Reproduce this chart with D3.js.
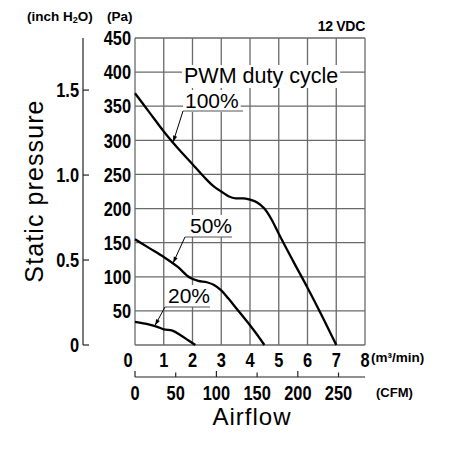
<!DOCTYPE html>
<html><head><meta charset="utf-8">
<script src="https://cdn.jsdelivr.net/npm/d3@7"></script>
<style>body{margin:0;background:#fff}svg{display:block}</style>
</head><body><div id="chart"></div>
<script>
// ---- data ----
const seriesNames = ["100%", "50%", "20%"];
const flow100 = [0, 0.5, 1, 1.5, 2, 2.5, 2.75, 3, 3.25, 3.5, 3.75, 4, 4.25, 4.5, 4.75, 5, 5.5, 6, 6.5, 7];
const pa100   = [369, 341, 313, 288, 265, 242, 232, 225, 218, 215, 215, 213, 209, 200, 184, 163, 123, 84, 43, 0];
const flow50  = [0, 0.5, 1, 1.5, 1.9, 2.2, 2.5, 2.75, 3, 3.25, 3.5, 3.75, 4, 4.25, 4.5];
const pa50    = [155, 142, 129, 114, 99, 94, 92, 88, 80, 68, 55, 42, 29, 15, 0];
const flow20  = [0, 0.5, 0.75, 1, 1.3, 1.6, 1.85, 2.1];
const pa20    = [34, 30, 27, 23, 21, 14, 7, 0];
const arrowFlow = [1.33, 1.33, 0.7];

const paGrid    = [0, 50, 100, 150, 200, 250, 300, 350, 400, 450];
const paLabels  = [50, 100, 150, 200, 250, 300, 350, 400, 450];
const inchTicks = [0, 0.5, 1.0, 1.5];
const inchLabels = ["0", "0.5", "1.0", "1.5"];
const flowTicks = [0, 1, 2, 3, 4, 5, 6, 7, 8];
const cfmTicks  = [0, 50, 100, 150, 200, 250];

const PA_PER_INCH = 249.089;
const CFM_PER_M3MIN = 35.3147;

// ---- setup ----
const svg = d3.select("#chart").append("svg").attr("width", 450).attr("height", 450);
const x = d3.scaleLinear().domain([0, 8]).range([135, 365]);
const y = d3.scaleLinear().domain([0, 450]).range([345, 38]);
const yInch = d3.scaleLinear().domain([0, 450 / PA_PER_INCH]).range([345, 38]);
const xCfm = d3.scaleLinear().domain([0, 8 * CFM_PER_M3MIN]).range([135, 365]);

const txtFont = "'Liberation Sans',Arial,Helvetica,sans-serif";
const gridColor = "#6a6a6a";
const NARROW = 0.82;

// condensed bold numbers: Liberation Sans Bold squeezed horizontally
function numLabels(g, data, px, py, anchor, textFn, baselineShift) {
  g.selectAll("text").data(data).join("text")
    .attr("transform", d => `translate(${px(d)},${py(d)}) scale(${NARROW},1)`)
    .attr("dy", baselineShift)
    .attr("text-anchor", anchor).attr("font-family", txtFont).attr("font-weight", "bold")
    .attr("font-size", 20).text(textFn);
}

// ---- grid ----
const grid = svg.append("g");
grid.selectAll("line.h").data(paGrid).join("line")
  .attr("x1", x(0)).attr("x2", x(8)).attr("y1", d => y(d)).attr("y2", d => y(d))
  .attr("stroke", gridColor).attr("stroke-width", 1.3);
grid.selectAll("line.v").data(flowTicks).join("line")
  .attr("y1", y(0)).attr("y2", y(450)).attr("x1", d => x(d)).attr("x2", d => x(d))
  .attr("stroke", gridColor).attr("stroke-width", 1.3);

// ---- Pa labels ----
numLabels(svg.append("g"), paLabels, () => 131, d => y(d), "end", d => d, "0.36em");

// ---- inch axis ----
const ia = svg.append("g");
ia.append("line").attr("x1", 83).attr("x2", 83).attr("y1", yInch(0)).attr("y2", y(450))
  .attr("stroke", "#222").attr("stroke-width", 1.2);
ia.selectAll("line.t").data(inchTicks).join("line")
  .attr("x1", 83).attr("x2", 89).attr("y1", d => yInch(d)).attr("y2", d => yInch(d))
  .attr("stroke", "#222").attr("stroke-width", 1.2);
numLabels(ia.append("g"), inchTicks, () => 79, d => yInch(d), "end", (d, i) => inchLabels[i], "0.36em");

// ---- x axis (m3/min) labels ----
numLabels(svg.append("g"), flowTicks, d => x(d) + (d === 0 ? -7 : 0), () => 367, "middle", d => d, 0);
svg.append("text").attr("x", 371).attr("y", 362)
  .attr("font-family", txtFont).attr("font-weight", "bold").attr("font-size", 13.5).text("(m³/min)");

// ---- CFM axis ----
const ca = svg.append("g");
ca.append("line").attr("x1", x(0)).attr("x2", x(8)).attr("y1", 377).attr("y2", 377)
  .attr("stroke", "#222").attr("stroke-width", 1.2);
ca.selectAll("line.t").data(cfmTicks).join("line")
  .attr("x1", d => xCfm(d)).attr("x2", d => xCfm(d)).attr("y1", 377).attr("y2", d => d % 100 === 0 ? 371 : 372.5)
  .attr("stroke", "#222").attr("stroke-width", 1.2);
numLabels(ca.append("g"), cfmTicks, d => xCfm(d), () => 400, "middle", d => d, 0);
svg.append("text").attr("x", 376).attr("y", 397)
  .attr("font-family", txtFont).attr("font-weight", "bold").attr("font-size", 13).text("(CFM)");

// ---- titles ----
svg.append("text").attr("x", 252).attr("y", 425).attr("text-anchor", "middle")
  .attr("font-family", txtFont).attr("font-size", 24).attr("letter-spacing", 1).text("Airflow");
svg.append("text").attr("transform", "translate(43,191) rotate(-90)").attr("text-anchor", "middle")
  .attr("font-family", txtFont).attr("font-size", 25).attr("letter-spacing", 1.1).text("Static pressure");
const ih = svg.append("text").attr("x", 27).attr("y", 21)
  .attr("font-family", txtFont).attr("font-weight", "bold").attr("font-size", 13.5);
ih.append("tspan").text("(inch H");
ih.append("tspan").attr("font-size", 9).attr("dy", 2).text("2");
ih.append("tspan").attr("dy", -2).text("O)");
svg.append("text").attr("x", 107).attr("y", 21)
  .attr("font-family", txtFont).attr("font-weight", "bold").attr("font-size", 13.5).text("(Pa)");
svg.append("text").attr("x", 365).attr("y", 31).attr("text-anchor", "end")
  .attr("font-family", txtFont).attr("font-weight", "bold").attr("font-size", 14).attr("letter-spacing", -0.3).text("12 VDC");

// ---- curves ----
const seriesData = [
  flow100.map((f, i) => [f, pa100[i]]),
  flow50.map((f, i) => [f, pa50[i]]),
  flow20.map((f, i) => [f, pa20[i]])
];
const line = d3.line().x(d => x(d[0])).y(d => y(d[1])).curve(d3.curveMonotoneX);
svg.append("g").selectAll("path").data(seriesData).join("path")
  .attr("d", line).attr("fill", "none").attr("stroke", "#000").attr("stroke-width", 2.3)
  .attr("stroke-linejoin", "round");

// ---- annotations ----
svg.append("defs").append("marker").attr("id", "arr")
  .attr("viewBox", "0 0 10 10").attr("refX", 10).attr("refY", 5)
  .attr("markerUnits", "userSpaceOnUse").attr("markerWidth", 8).attr("markerHeight", 6)
  .attr("orient", "auto")
  .append("path").attr("d", "M0,1.5 L10,5 L0,8.5 Z").attr("fill", "#000");

function labelBox(tx, ty, size, str) {
  const g = svg.append("g");
  const r = g.append("rect").attr("fill", "#fff");
  const t = g.append("text").attr("x", tx).attr("y", ty)
    .attr("font-family", txtFont).attr("font-size", size).text(str);
  const b = t.node().getBBox();
  r.attr("x", b.x - 2).attr("y", b.y + 1).attr("width", b.width + 4).attr("height", b.height - 1);
  return g;
}
function curveY(fs, ps, f) {
  const i = d3.bisectLeft(fs, f);
  const t = (f - fs[i - 1]) / (fs[i] - fs[i - 1]);
  return ps[i - 1] + t * (ps[i] - ps[i - 1]);
}

labelBox(184, 83, 21.5, "PWM duty cycle");

const ann = [
  { tx: 185, ty: 108, ux1: 183, ux2: 243, uy: 111 },
  { tx: 190, ty: 233, ux1: 185, ux2: 232, uy: 237 },
  { tx: 168, ty: 303, ux1: 165, ux2: 210, uy: 307 }
];
const flows = [flow100, flow50, flow20], pas = [pa100, pa50, pa20];
ann.forEach((a, i) => {
  labelBox(a.tx, a.ty, 21, seriesNames[i]);
  svg.append("line").attr("x1", a.ux1).attr("x2", a.ux2).attr("y1", a.uy).attr("y2", a.uy)
    .attr("stroke", "#555").attr("stroke-width", 1);
  const fx = arrowFlow[i];
  const px = x(fx), py = y(curveY(flows[i], pas[i], fx));
  svg.append("line").attr("x1", a.ux1).attr("y1", a.uy).attr("x2", px).attr("y2", py - 1)
    .attr("stroke", "#000").attr("stroke-width", 1).attr("marker-end", "url(#arr)");
});
</script>
</body></html>
